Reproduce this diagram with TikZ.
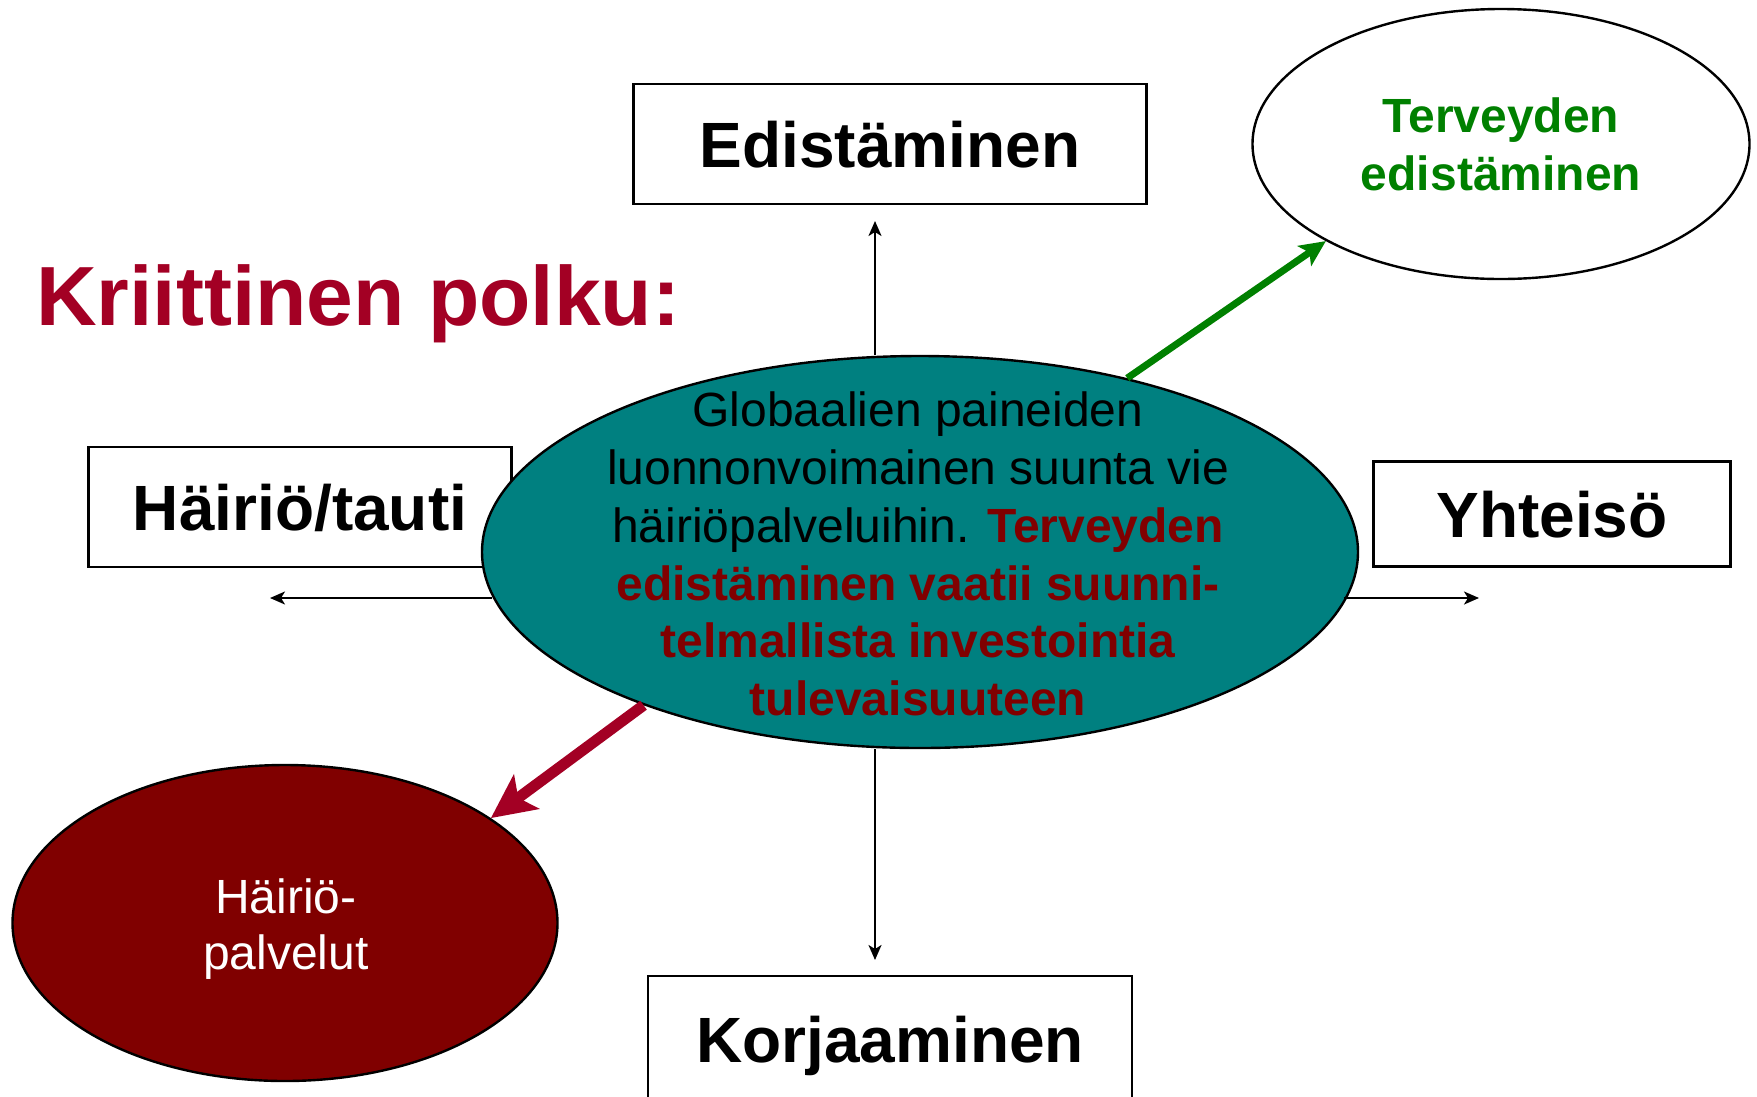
\documentclass[tikz,border=0pt]{standalone}
\usepackage{fontspec}
\setmainfont{Liberation Sans}
\usetikzlibrary{shapes.geometric,arrows.meta}
\definecolor{tealc}{RGB}{0,128,128}
\definecolor{maroonc}{RGB}{128,0,0}
\definecolor{greenc}{RGB}{0,128,0}
\definecolor{crimsonc}{RGB}{163,0,36}
\begin{document}
\begin{tikzpicture}[x=1pt,y=-1pt,
  labelbox/.style={draw=black, line width=2.6pt, fill=white, inner sep=0pt,
    text height=46pt, text depth=0pt,
    font=\fontsize{64}{70}\selectfont\bfseries},
  ell/.style={ellipse, draw=black, line width=2.4pt, inner sep=0pt},
  thinarrow/.style={line width=2pt, -{Stealth[length=15pt,width=13pt,inset=4pt]}},
]
\useasboundingbox (0,0) rectangle (1757,1096);

% boxes
\node[labelbox, minimum width=513pt, minimum height=120pt] (edist) at (890,144) {Edistäminen};
\node[labelbox, minimum width=423pt, minimum height=120pt] (hairio) at (300,507) {Häiriö/tauti};
\node[labelbox, minimum width=357pt, minimum height=105pt] (yht) at (1552,514) {Yhteisö};
\node[labelbox, minimum width=484pt, minimum height=126pt] (korj) at (890,1039) {Korjaaminen};

% title
\node[anchor=base west, inner sep=0pt, text=crimsonc,
  font=\fontsize{84}{90}\selectfont\bfseries] (krit) at (36,325) {Kriittinen polku:};

% ellipses
\node[ell, fill=white, minimum width=497pt, minimum height=270pt] (terv) at (1501,144) {};
\node[anchor=north, inner sep=0pt, align=center, text=greenc,
  font=\fontsize{48}{58}\selectfont\bfseries] (tervtext) at (1501,98) {Terveyden\\edistäminen};

\node[ell, fill=tealc, minimum width=876pt, minimum height=392pt] (main) at (920,552) {};
\node[anchor=north, inner sep=0pt, align=center,
  font=\fontsize{48}{57.7}\selectfont] (maintext) at (918,392)
  {Globaalien paineiden\\luonnonvoimainen suunta vie\\häiriöpalveluihin. {\bfseries\color{maroonc}Terveyden}\\
   {\bfseries\color{maroonc}edistäminen vaatii suunni-}\\
   {\bfseries\color{maroonc}telmallista investointia}\\
   {\bfseries\color{maroonc}tulevaisuuteen}};

\node[ell, fill=maroonc, minimum width=545pt, minimum height=316pt] (hp) at (285,923) {};
\node[anchor=north, inner sep=0pt, align=center, text=white,
  font=\fontsize{48}{56}\selectfont] (hptext) at (286,879) {Häiriö-\\palvelut};

% free ends of thin arrows
\coordinate (upend) at (875,221);
\coordinate (downend) at (875,960);
\coordinate (leftend) at (270,598);
\coordinate (rightend) at (1479,598);

\draw[thinarrow] (upend |- main.north) -- (upend);
\draw[thinarrow] (downend |- main.south) -- (downend);
\draw[thinarrow] (main.186.2 |- leftend) -- (leftend);
\draw[thinarrow] (main.353.8 |- rightend) -- (rightend);

% thick arrows
\draw[greenc, line width=7pt, -{Stealth[length=26pt,width=24pt,inset=6pt]}]
  (main.40) -- (terv.209.5);
\draw[crimsonc, line width=11pt, -{Stealth[length=44pt,width=42pt,inset=10pt]}]
  (main.209.7) -- (hp.27);
\end{tikzpicture}
\end{document}
